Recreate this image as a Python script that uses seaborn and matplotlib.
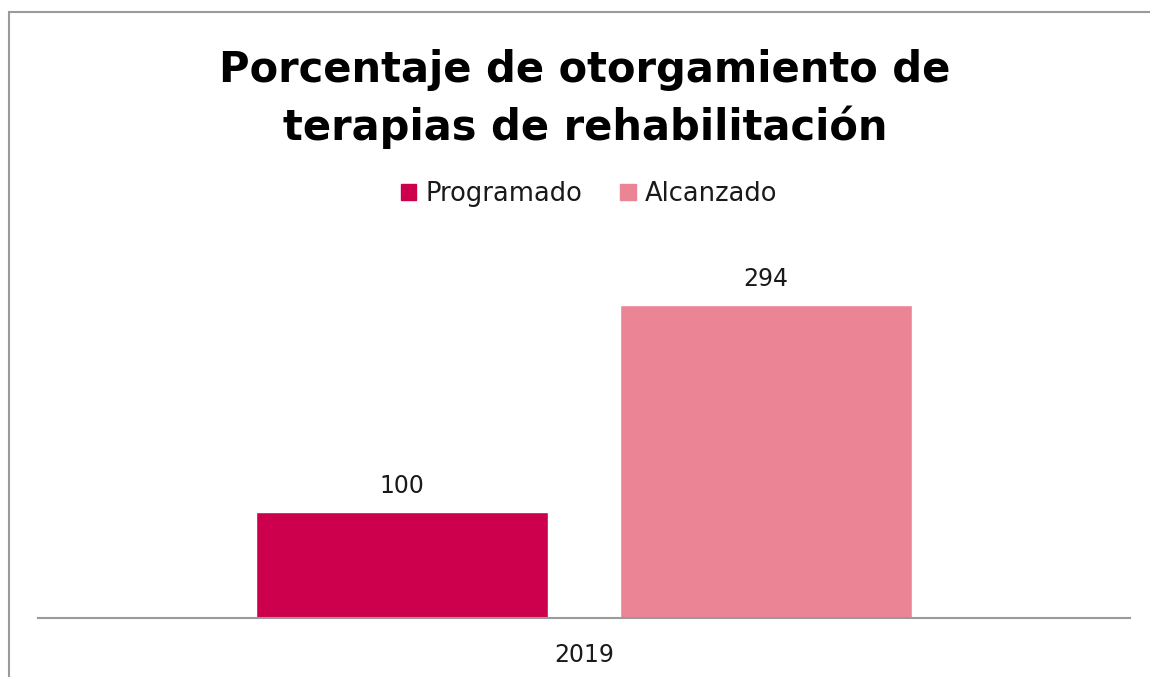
import pandas as pd
import seaborn as sns
import matplotlib.pyplot as plt
from matplotlib.patches import Rectangle

# --- Data ---
years = ["2019"]
series = ["Programado", "Alcanzado"]
values = [100, 294]
colors = ["#CC004C", "#EB8596"]

df = pd.DataFrame({"Año": years * len(series), "Serie": series, "Valor": values})

sns.set_theme(style="white")
plt.rcParams["font.family"] = ["DejaVu Sans"]

fig = plt.figure(figsize=(11.5, 6.77), dpi=100)
ax = fig.add_axes([38 / 1150, 59 / 677, 1092 / 1150, 372.5 / 677])

# chart frame (cut off at right and bottom like the source screenshot)
fig.patches.append(Rectangle((9 / 1150, -0.1), 1.2, 1.1 - 12 / 677,
                             transform=fig.transFigure, fill=False,
                             edgecolor="#9a9a9a", linewidth=1.5))

sns.barplot(data=df, x="Año", y="Valor", hue="Serie", palette=colors,
            width=0.8, gap=0.2, ax=ax, legend=False, saturation=1)

for cont in ax.containers:
    ax.bar_label(cont, fmt="%d", padding=10, fontsize=17, color="#1a1a1a")

ax.set_xlim(-0.6, 0.6)
ax.set_ylim(0, 350)
ax.set_yticks([])
ax.set_xlabel("")
ax.set_ylabel("")
for s in ["top", "right", "left"]:
    ax.spines[s].set_visible(False)
ax.spines["bottom"].set_color("#9a9a9a")
ax.spines["bottom"].set_linewidth(1.5)
ax.tick_params(axis="x", length=0, labelsize=17, pad=18, labelcolor="#1a1a1a")

fig.text(585 / 1150, 1 - 99 / 677, "Porcentaje de otorgamiento de\nterapias de rehabilitación",
         ha="center", va="center", fontsize=30, fontweight="bold",
         linespacing=1.42, color="black")

handles = [Rectangle((0, 0), 1, 1, color=c) for c in colors]
fig.legend(handles, series, loc="center", bbox_to_anchor=(589 / 1150, 1 - 194 / 677),
           ncol=2, frameon=False, fontsize=18.5, handlelength=0.6, handleheight=0.6,
           handletextpad=0.35, columnspacing=1.5, labelcolor="#1a1a1a")

plt.savefig("out.png", dpi=100)
